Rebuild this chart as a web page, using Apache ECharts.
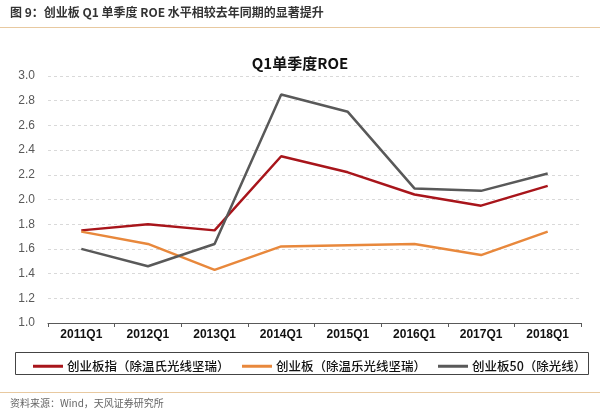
<!DOCTYPE html>
<html><head><meta charset="utf-8">
<script src="https://cdn.jsdelivr.net/npm/echarts@6/dist/echarts.min.js"></script>
<style>html,body{margin:0;padding:0;background:#fff}#c{width:600px;height:418px}</style>
</head><body><div id="c"></div>
<script>
const categories = ['2011Q1','2012Q1','2013Q1','2014Q1','2015Q1','2016Q1','2017Q1','2018Q1'];
const seriesNames = ['创业板指（除温氏光线坚瑞）','创业板（除温乐光线坚瑞）','创业板50（除光线）'];
const chinextIndex = [1.75,1.80,1.75,2.35,2.22,2.04,1.95,2.11];
const chinextBoard = [1.74,1.64,1.43,1.62,1.63,1.64,1.55,1.74];
const chinext50 = [1.60,1.46,1.64,2.85,2.71,2.09,2.07,2.21];
const colors = ['#a8151b','#e8883c','#595959'];
const headerText = '图 9：创业板 Q1 单季度 ROE 水平相较去年同期的显著提升';
const chartTitle = 'Q1单季度ROE';
const sourceText = '资料来源：Wind，天风证券研究所';

const FONT = 'Liberation Sans, "Noto Sans CJK SC", sans-serif';
const chart = echarts.init(document.getElementById('c'));
const allData = [chinextIndex, chinextBoard, chinext50];
const legendLefts = [28, 237, 433];
chart.setOption({
  animation: false,
  textStyle: {fontFamily: FONT},
  title: {text: chartTitle, left: 'center', top: 51, textStyle: {fontSize: 15, fontWeight: 'bold', color: '#111', fontFamily: '"Noto Sans CJK SC", sans-serif'}},
  grid: {left: 48, right: 19, top: 76, bottom: 95},
  xAxis: {
    type: 'category', data: categories, boundaryGap: true,
    axisLine: {show: true, lineStyle: {color: '#595959', width: 1}},
    axisTick: {show: true, length: 4, lineStyle: {color: '#595959'}},
    axisLabel: {color: '#111', fontSize: 12, fontWeight: 'bold', margin: 6, fontFamily: FONT}
  },
  yAxis: {
    type: 'value', min: 1.0, max: 3.0, interval: 0.2,
    axisLine: {show: false}, axisTick: {show: false},
    axisLabel: {color: '#595959', fontSize: 12, margin: 13, formatter: v => v.toFixed(1)},
    splitLine: {show: true, lineStyle: {color: '#d9d9d9', type: [3, 3]}}
  },
  legend: seriesNames.map((n, i) => ({
    data: [n], left: legendLefts[i], top: 355, itemWidth: 30, itemHeight: 3, icon: 'rect', itemGap: 4,
    textStyle: {fontSize: 12.5, fontWeight: 500, color: '#111', fontFamily: '"Noto Sans CJK SC", sans-serif', padding: [0, 0, 0, -1]}
  })),
  series: seriesNames.map((n, i) => ({
    name: n, type: 'line', data: allData[i], showSymbol: false, symbol: 'none',
    lineStyle: {color: colors[i], width: 2.5}, itemStyle: {color: colors[i]}
  })),
  graphic: [
    {type: 'text', left: 10, top: 6, style: {text: headerText, font: 'bold 12px "Noto Sans CJK SC", sans-serif', fill: '#333'}},
    {type: 'rect', shape: {x: 0, y: 27, width: 600, height: 1}, style: {fill: '#e8c9a0'}},
    {type: 'rect', shape: {x: 15.5, y: 352.5, width: 573, height: 22}, style: {fill: 'none', stroke: '#444', lineWidth: 1}},
    {type: 'rect', shape: {x: 0, y: 392, width: 600, height: 1}, style: {fill: '#e8c9a0'}},
    {type: 'text', left: 10, top: 398, style: {text: sourceText, font: '10px "Noto Sans CJK SC", sans-serif', fill: '#666'}}
  ]
});
</script></body></html>
